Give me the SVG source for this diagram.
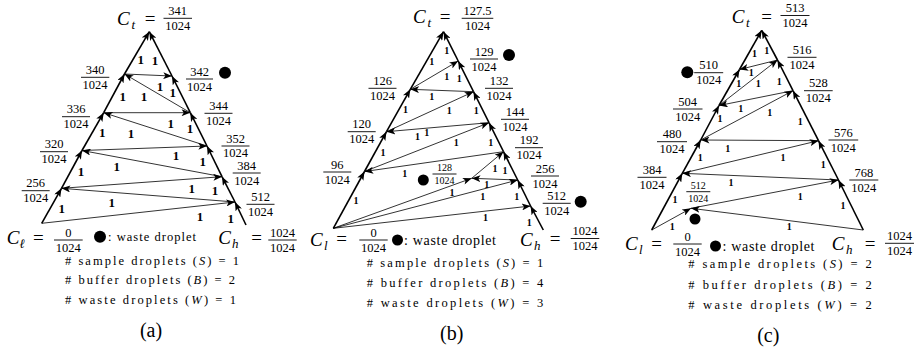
<svg xmlns="http://www.w3.org/2000/svg" width="921" height="355" viewBox="0 0 921 355" font-family="'Liberation Serif', 'DejaVu Serif', serif">
<style>
text{font-family:'Liberation Serif','DejaVu Serif',serif;fill:#000}
.fr{font-family:'Liberation Serif',serif;font-size:12.5px;text-anchor:middle}
.frs{font-family:'Liberation Serif',serif;font-size:10px;text-anchor:middle}
.bar{stroke:#000;stroke-width:0.9}
.side{stroke:#000;stroke-width:1.6;fill:none;marker-end:url(#ah)}
.edge{stroke:#000;stroke-width:0.8;fill:none;marker-end:url(#ah)}
.wa{font-family:'Liberation Serif',serif;font-weight:bold;font-size:13px;text-anchor:middle}
.wb{font-family:'Liberation Serif',serif;font-weight:bold;font-size:10px;text-anchor:middle}
.ci{font-family:'Liberation Serif',serif;font-size:19px;font-style:italic}
.sub{font-family:'Liberation Serif','DejaVu Serif',serif;font-size:13px;font-style:italic}
.eq{font-family:'Liberation Serif',serif;font-size:19px;text-anchor:middle}
.lg{font-family:'Liberation Serif',serif;font-size:12.5px}
.wd{font-family:'Liberation Serif',serif;font-size:14px}
.cap{font-family:'Liberation Serif',serif;font-size:20px;text-anchor:middle}
.dot{fill:#000}
</style>
<defs>
<marker id="ah" viewBox="0 0 10 8" refX="10" refY="4" markerWidth="9" markerHeight="7" markerUnits="userSpaceOnUse" orient="auto"><path d="M0,0 L10,4 L0,8 L2.5,4 z" fill="#000"/></marker>
</defs>

<g id="connectors-a">
<line class="side" x1="41.7" y1="223.3" x2="61.5" y2="188.3"/>
<line class="side" x1="61.5" y1="188.3" x2="82" y2="150.5"/>
<line class="side" x1="82" y1="150.5" x2="103.7" y2="112.7"/>
<line class="side" x1="103.7" y1="112.7" x2="124.5" y2="74"/>
<line class="side" x1="124.5" y1="74" x2="149.3" y2="31.7"/>
<line class="side" x1="246" y1="225" x2="235" y2="202"/>
<line class="side" x1="235" y1="202" x2="222" y2="176.7"/>
<line class="side" x1="222" y1="176.7" x2="207" y2="146"/>
<line class="side" x1="207" y1="146" x2="190.3" y2="112.7"/>
<line class="side" x1="190.3" y1="112.7" x2="172" y2="76"/>
<line class="side" x1="172" y1="76" x2="149.3" y2="31.7"/>
<line class="edge" x1="41.7" y1="223.3" x2="235" y2="202"/>
<line class="edge" x1="235" y1="202" x2="61.5" y2="188.3"/>
<line class="edge" x1="61.5" y1="188.3" x2="222" y2="176.7"/>
<line class="edge" x1="222" y1="176.7" x2="82" y2="150.5"/>
<line class="edge" x1="82" y1="150.5" x2="207" y2="146"/>
<line class="edge" x1="207" y1="146" x2="103.7" y2="112.7"/>
<line class="edge" x1="103.7" y1="112.7" x2="190.3" y2="112.7"/>
<line class="edge" x1="190.3" y1="112.7" x2="124.5" y2="74"/>
<line class="edge" x1="124.5" y1="74" x2="172" y2="76"/>
</g>
<g id="weights-a">
<text class="wa" x="140.7" y="63.8">1</text><text class="wa" x="155" y="64.5">1</text>
<text class="wa" x="122.7" y="101.2">1</text><text class="wa" x="144" y="101.2">1</text>
<text class="wa" x="160" y="90.5">1</text><text class="wa" x="172.7" y="97.2">1</text>
<text class="wa" x="102.3" y="136.8">1</text><text class="wa" x="131" y="137.8">1</text>
<text class="wa" x="170.7" y="127.8">1</text><text class="wa" x="190" y="132.8">1</text>
<text class="wa" x="81" y="176.2">1</text><text class="wa" x="116.7" y="171.2">1</text>
<text class="wa" x="176" y="160">1</text><text class="wa" x="202.7" y="166.2">1</text>
<text class="wa" x="61.7" y="212.5">1</text><text class="wa" x="111.7" y="206.5">1</text>
<text class="wa" x="191.7" y="192.8">1</text><text class="wa" x="215" y="194.5">1</text>
<text class="wa" x="200" y="221.2">1</text><text class="wa" x="230.7" y="222.5">1</text>
</g>
<g id="a-ct"><text class="ci" x="117" y="25">C</text><text class="sub" x="131.5" y="28.5">t</text><text class="eq" x="150" y="25">=</text>
<text class="fr" x="177.7" y="15">341</text><line class="bar" x1="163.5" y1="18.3" x2="192" y2="18.3"/><text class="fr" x="177.7" y="29.8">1024</text></g>
<g id="a-n340"><text class="fr" x="95" y="74">340</text><line class="bar" x1="81" y1="77.3" x2="109.3" y2="77.3"/><text class="fr" x="95" y="88.8">1024</text></g>
<g id="a-n342"><text class="fr" x="199.5" y="75.7">342</text><line class="bar" x1="186" y1="79" x2="213" y2="79"/><text class="fr" x="199.5" y="90.5">1024</text><circle class="dot" cx="225" cy="72.7" r="6"/></g>
<g id="a-n336"><text class="fr" x="76" y="113.4">336</text><line class="bar" x1="62" y1="116.7" x2="90" y2="116.7"/><text class="fr" x="76" y="128.2">1024</text></g>
<g id="a-n344"><text class="fr" x="218.5" y="110">344</text><line class="bar" x1="204.5" y1="113.3" x2="232.5" y2="113.3"/><text class="fr" x="218.5" y="124.8">1024</text></g>
<g id="a-n320"><text class="fr" x="54" y="148.4">320</text><line class="bar" x1="40" y1="151.7" x2="68" y2="151.7"/><text class="fr" x="54" y="163.2">1024</text></g>
<g id="a-n352"><text class="fr" x="235.5" y="142.7">352</text><line class="bar" x1="221.5" y1="146" x2="249.5" y2="146"/><text class="fr" x="235.5" y="157.3">1024</text></g>
<g id="a-n384"><text class="fr" x="246.7" y="169.8">384</text><line class="bar" x1="232.7" y1="173" x2="260.7" y2="173"/><text class="fr" x="246.7" y="184.5">1024</text></g>
<g id="a-n256"><text class="fr" x="35.7" y="187.4">256</text><line class="bar" x1="21.7" y1="190.7" x2="49.7" y2="190.7"/><text class="fr" x="35.7" y="202.2">1024</text></g>
<g id="a-n512"><text class="fr" x="260.5" y="201">512</text><line class="bar" x1="246.5" y1="204.3" x2="274.5" y2="204.3"/><text class="fr" x="260.5" y="215.8">1024</text></g>
<g id="a-cl"><text class="ci" x="6.7" y="244">C</text><text class="sub" x="19.5" y="247.5">ℓ</text><text class="eq" x="38.3" y="243.5">=</text>
<text class="fr" x="68.3" y="236.7">0</text><line class="bar" x1="54" y1="240" x2="82.7" y2="240"/><text class="fr" x="68.3" y="251.5">1024</text></g>
<g id="a-legend"><circle class="dot" cx="100" cy="236.7" r="6"/><text class="lg" x="108" y="241" textLength="88" lengthAdjust="spacing">: waste droplet</text></g>
<g id="a-ch"><text class="ci" x="218.3" y="244">C</text><text class="sub" x="232" y="247.5">h</text><text class="eq" x="256.7" y="243.5">=</text>
<text class="fr" x="282.5" y="236.7">1024</text><line class="bar" x1="268.3" y1="240" x2="296.7" y2="240"/><text class="fr" x="282.5" y="251.5">1024</text></g>
<g id="a-counts">
<text class="lg" x="65" y="264.5" textLength="174" lengthAdjust="spacing"># sample droplets (<tspan font-style="italic">S</tspan>) = 1</text>
<text class="lg" x="65" y="284" textLength="170" lengthAdjust="spacing"># buffer droplets (<tspan font-style="italic">B</tspan>) = 2</text>
<text class="lg" x="65" y="304" textLength="171" lengthAdjust="spacing"># waste droplets (<tspan font-style="italic">W</tspan>) = 1</text>
<text class="cap" x="151" y="337">(a)</text>
</g>

<g id="connectors-b">
<line class="side" x1="333.3" y1="228.3" x2="364.5" y2="171.5"/>
<line class="side" x1="364.5" y1="171.5" x2="386.5" y2="131.7"/>
<line class="side" x1="386.5" y1="131.7" x2="410.3" y2="89.3"/>
<line class="side" x1="410.3" y1="89.3" x2="443.5" y2="31.7"/>
<line class="side" x1="543.3" y1="230" x2="530.6" y2="206"/>
<line class="side" x1="530.6" y1="206" x2="517.7" y2="180"/>
<line class="side" x1="517.7" y1="180" x2="503.5" y2="151.7"/>
<line class="side" x1="503.5" y1="151.7" x2="489" y2="122.7"/>
<line class="side" x1="489" y1="122.7" x2="473.5" y2="91.7"/>
<line class="side" x1="473.5" y1="91.7" x2="458.2" y2="61"/>
<line class="side" x1="458.2" y1="61" x2="443.5" y2="31.7"/>
<line class="edge" x1="333.3" y1="228.3" x2="530.6" y2="206"/>
<line class="edge" x1="333.3" y1="228.3" x2="517.7" y2="180"/>
<line class="edge" x1="333.3" y1="228.3" x2="471.7" y2="178.3"/>
<line class="edge" x1="517.7" y1="180" x2="471.7" y2="178.3"/>
<line class="edge" x1="471.7" y1="178.3" x2="503.5" y2="151.7"/>
<line class="edge" x1="503.5" y1="151.7" x2="364.5" y2="171.5"/>
<line class="edge" x1="364.5" y1="171.5" x2="489" y2="122.7"/>
<line class="edge" x1="489" y1="122.7" x2="386.5" y2="131.7"/>
<line class="edge" x1="386.5" y1="131.7" x2="473.5" y2="91.7"/>
<line class="edge" x1="473.5" y1="91.7" x2="410.3" y2="89.3"/>
<line class="edge" x1="410.3" y1="89.3" x2="458.2" y2="61"/>
</g>
<g id="weights-b">
<text class="wb" x="446.7" y="53.5">1</text><text class="wb" x="431.7" y="65.2">1</text>
<text class="wb" x="446.7" y="79.5">1</text><text class="wb" x="459.3" y="82">1</text>
<text class="wb" x="431.7" y="99.5">1</text><text class="wb" x="405.5" y="113.2">1</text>
<text class="wb" x="449.3" y="113.5">1</text><text class="wb" x="476.3" y="114.3">1</text>
<text class="wb" x="417.5" y="139.5">1</text><text class="wb" x="426.7" y="135.7">1</text>
<text class="wb" x="456.3" y="146.2">1</text><text class="wb" x="490.7" y="146.2">1</text>
<text class="wb" x="383" y="155.5">1</text><text class="wb" x="404.7" y="177.3">1</text>
<text class="wb" x="495" y="171.8">1</text><text class="wb" x="505" y="173.5">1</text>
<text class="wb" x="486.7" y="187.5">1</text><text class="wb" x="452" y="196">1</text>
<text class="wb" x="482.7" y="199.5">1</text><text class="wb" x="516.7" y="199.5">1</text>
<text class="wb" x="356" y="203.5">1</text><text class="wb" x="485.5" y="221.3">1</text>
<text class="wb" x="529.3" y="225.7">1</text>
</g>
<g id="b-ct"><text class="ci" x="413" y="23">C</text><text class="sub" x="427.5" y="26.5">t</text><text class="eq" x="445" y="23">=</text>
<text class="fr" x="477.5" y="15">127.5</text><line class="bar" x1="461.7" y1="18.3" x2="493.3" y2="18.3"/><text class="fr" x="477.5" y="29.8">1024</text></g>
<g id="b-n129"><text class="fr" x="484" y="55.7">129</text><line class="bar" x1="470" y1="59" x2="498" y2="59"/><text class="fr" x="484" y="70.5">1024</text><circle class="dot" cx="509" cy="55" r="6"/></g>
<g id="b-n126"><text class="fr" x="382.5" y="85">126</text><line class="bar" x1="368.5" y1="88.3" x2="396.5" y2="88.3"/><text class="fr" x="382.5" y="99.8">1024</text></g>
<g id="b-n132"><text class="fr" x="499" y="85">132</text><line class="bar" x1="485" y1="88.3" x2="513" y2="88.3"/><text class="fr" x="499" y="99.8">1024</text></g>
<g id="b-n144"><text class="fr" x="515" y="116">144</text><line class="bar" x1="501" y1="119.3" x2="529" y2="119.3"/><text class="fr" x="515" y="130.8">1024</text></g>
<g id="b-n120"><text class="fr" x="361.7" y="128.4">120</text><line class="bar" x1="347.7" y1="131.7" x2="375.7" y2="131.7"/><text class="fr" x="361.7" y="143.2">1024</text></g>
<g id="b-n192"><text class="fr" x="529" y="144.4">192</text><line class="bar" x1="515" y1="147.7" x2="543" y2="147.7"/><text class="fr" x="529" y="159.2">1024</text></g>
<g id="b-n96"><text class="fr" x="337.3" y="168.7">96</text><line class="bar" x1="323.3" y1="172" x2="351.3" y2="172"/><text class="fr" x="337.3" y="183.5">1024</text></g>
<g id="b-n256"><text class="fr" x="545" y="172.7">256</text><line class="bar" x1="531" y1="176" x2="559" y2="176"/><text class="fr" x="545" y="187.5">1024</text></g>
<g id="b-n512"><text class="fr" x="556.7" y="200">512</text><line class="bar" x1="542.7" y1="203.3" x2="570.7" y2="203.3"/><text class="fr" x="556.7" y="214.8">1024</text><circle class="dot" cx="580.7" cy="201.7" r="6"/></g>
<g id="b-n128"><circle class="dot" cx="423.3" cy="180" r="5.5"/><text class="frs" x="444.5" y="171.2">128</text><line class="bar" x1="432.5" y1="174" x2="456.5" y2="174"/><text class="frs" x="444.5" y="184">1024</text></g>
<g id="b-cl"><text class="ci" x="310" y="246">C</text><text class="sub" x="324" y="249.5">l</text><text class="eq" x="341.7" y="245">=</text>
<text class="fr" x="373.5" y="236.7">0</text><line class="bar" x1="359.3" y1="240" x2="387.7" y2="240"/><text class="fr" x="373.5" y="251.5">1024</text></g>
<g id="b-legend"><circle class="dot" cx="397.5" cy="240" r="5.5"/><text class="wd" x="404" y="245" textLength="92" lengthAdjust="spacing">: waste droplet</text></g>
<g id="b-ch"><text class="ci" x="520" y="246">C</text><text class="sub" x="534" y="249.5">h</text><text class="eq" x="555" y="245">=</text>
<text class="fr" x="585" y="235.2">1024</text><line class="bar" x1="570.7" y1="238.5" x2="599.3" y2="238.5"/><text class="fr" x="585" y="250">1024</text></g>
<g id="b-counts">
<text class="lg" x="366.7" y="266.7" textLength="176.6" lengthAdjust="spacing"># sample droplets (<tspan font-style="italic">S</tspan>) = 1</text>
<text class="lg" x="366.7" y="287.3" textLength="176.6" lengthAdjust="spacing"># buffer droplets (<tspan font-style="italic">B</tspan>) = 4</text>
<text class="lg" x="366.7" y="306.7" textLength="176.6" lengthAdjust="spacing"># waste droplets (<tspan font-style="italic">W</tspan>) = 3</text>
<text class="cap" x="451.7" y="340">(b)</text>
</g>

<g id="connectors-c">
<line class="side" x1="651.7" y1="230" x2="682.3" y2="173.3"/>
<line class="side" x1="682.3" y1="173.3" x2="700.7" y2="140"/>
<line class="side" x1="700.7" y1="140" x2="719" y2="105.5"/>
<line class="side" x1="719" y1="105.5" x2="739.5" y2="69.5"/>
<line class="side" x1="739.5" y1="69.5" x2="761.7" y2="30.3"/>
<line class="side" x1="863.3" y1="230" x2="838.5" y2="180"/>
<line class="side" x1="838.5" y1="180" x2="818.5" y2="140.7"/>
<line class="side" x1="818.5" y1="140.7" x2="793" y2="90.7"/>
<line class="side" x1="793" y1="90.7" x2="777.5" y2="60"/>
<line class="side" x1="777.5" y1="60" x2="761.7" y2="30.3"/>
<line class="edge" x1="651.7" y1="230" x2="691" y2="208.3"/>
<line class="edge" x1="863.3" y1="230" x2="691" y2="208.3"/>
<line class="edge" x1="691" y1="208.3" x2="838.5" y2="180"/>
<line class="edge" x1="838.5" y1="180" x2="682.3" y2="173.3"/>
<line class="edge" x1="682.3" y1="173.3" x2="818.5" y2="140.7"/>
<line class="edge" x1="818.5" y1="140.7" x2="700.7" y2="140"/>
<line class="edge" x1="700.7" y1="140" x2="793" y2="90.7"/>
<line class="edge" x1="793" y1="90.7" x2="719" y2="105.5"/>
<line class="edge" x1="719" y1="105.5" x2="777.5" y2="60"/>
<line class="edge" x1="777.5" y1="60" x2="739.5" y2="69.5"/>
</g>
<g id="weights-c">
<text class="wb" x="754.5" y="57.2">1</text><text class="wb" x="766.7" y="54.2">1</text>
<text class="wb" x="751.2" y="76">1</text><text class="wb" x="738.8" y="86.8">1</text>
<text class="wb" x="758.3" y="86.8">1</text><text class="wb" x="779.3" y="84.8">1</text>
<text class="wb" x="720" y="122.2">1</text><text class="wb" x="740.8" y="112.3">1</text>
<text class="wb" x="769.7" y="115.5">1</text><text class="wb" x="800.3" y="124.5">1</text>
<text class="wb" x="700.3" y="160.5">1</text><text class="wb" x="727.8" y="151.8">1</text>
<text class="wb" x="783" y="160.5">1</text><text class="wb" x="823.3" y="167.5">1</text>
<text class="wb" x="675" y="202.8">1</text><text class="wb" x="731" y="185.5">1</text>
<text class="wb" x="800.3" y="200.2">1</text><text class="wb" x="843" y="208.5">1</text>
<text class="wb" x="672.2" y="229.5">1</text><text class="wb" x="789.3" y="230.2">1</text>
</g>
<g id="c-ct"><text class="ci" x="731.7" y="23">C</text><text class="sub" x="746" y="26.5">t</text><text class="eq" x="766.7" y="23">=</text>
<text class="fr" x="795" y="12.3">513</text><line class="bar" x1="780.5" y1="15.5" x2="809.5" y2="15.5"/><text class="fr" x="795" y="27">1024</text></g>
<g id="c-n516"><text class="fr" x="802" y="54">516</text><line class="bar" x1="787.5" y1="57.3" x2="816.5" y2="57.3"/><text class="fr" x="802" y="68.8">1024</text></g>
<g id="c-n510"><circle class="dot" cx="687.3" cy="72.3" r="6"/><text class="fr" x="708.7" y="69.4">510</text><line class="bar" x1="694.2" y1="72.7" x2="723.2" y2="72.7"/><text class="fr" x="708.7" y="84.2">1024</text></g>
<g id="c-n528"><text class="fr" x="818.3" y="87.4">528</text><line class="bar" x1="804" y1="90.7" x2="832.7" y2="90.7"/><text class="fr" x="818.3" y="102.2">1024</text></g>
<g id="c-n504"><text class="fr" x="687.7" y="105.7">504</text><line class="bar" x1="673" y1="109" x2="702.5" y2="109"/><text class="fr" x="687.7" y="120.5">1024</text></g>
<g id="c-n480"><text class="fr" x="672" y="138.4">480</text><line class="bar" x1="657" y1="141.7" x2="687" y2="141.7"/><text class="fr" x="672" y="153.2">1024</text></g>
<g id="c-n576"><text class="fr" x="843.3" y="136.7">576</text><line class="bar" x1="828.5" y1="140" x2="858.2" y2="140"/><text class="fr" x="843.3" y="151.5">1024</text></g>
<g id="c-n384"><text class="fr" x="652" y="174">384</text><line class="bar" x1="637.5" y1="177.3" x2="666.5" y2="177.3"/><text class="fr" x="652" y="188.8">1024</text></g>
<g id="c-n768"><text class="fr" x="863.8" y="176.7">768</text><line class="bar" x1="849.3" y1="180" x2="878.3" y2="180"/><text class="fr" x="863.8" y="191.5">1024</text></g>
<g id="c-n512"><text class="frs" x="698.3" y="189">512</text><line class="bar" x1="686.3" y1="191.7" x2="710.3" y2="191.7"/><text class="frs" x="698.3" y="202">1024</text><circle class="dot" cx="695" cy="219" r="5.5"/></g>
<g id="c-cl"><text class="ci" x="625" y="250">C</text><text class="sub" x="639" y="253.5">l</text><text class="eq" x="656.7" y="249.5">=</text>
<text class="fr" x="687.5" y="240.7">0</text><line class="bar" x1="673.3" y1="244" x2="701.7" y2="244"/><text class="fr" x="687.5" y="255.5">1024</text></g>
<g id="c-legend"><circle class="dot" cx="715.5" cy="246" r="5.5"/><text class="wd" x="722.5" y="250.5" textLength="92" lengthAdjust="spacing">: waste droplet</text></g>
<g id="c-ch"><text class="ci" x="831.7" y="250">C</text><text class="sub" x="846" y="253.5">h</text><text class="eq" x="870" y="249.5">=</text>
<text class="fr" x="899.5" y="240">1024</text><line class="bar" x1="885" y1="243.3" x2="914" y2="243.3"/><text class="fr" x="899.5" y="254.8">1024</text></g>
<g id="c-counts">
<text class="lg" x="688.3" y="268" textLength="183.4" lengthAdjust="spacing"># sample droplets (<tspan font-style="italic">S</tspan>) = 2</text>
<text class="lg" x="688.3" y="289" textLength="183.4" lengthAdjust="spacing"># buffer droplets (<tspan font-style="italic">B</tspan>) = 2</text>
<text class="lg" x="688.3" y="309" textLength="183.4" lengthAdjust="spacing"># waste droplets (<tspan font-style="italic">W</tspan>) = 2</text>
<text class="cap" x="768.3" y="342">(c)</text>
</g>
</svg>
